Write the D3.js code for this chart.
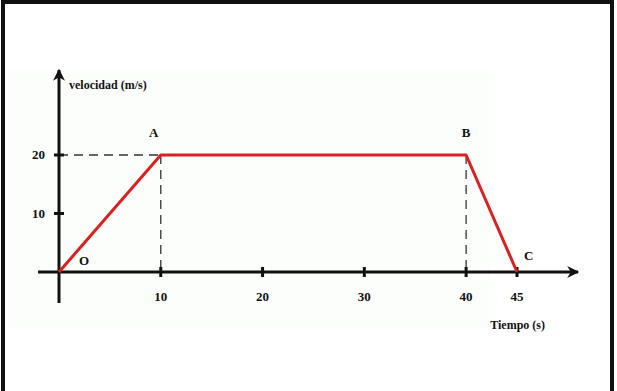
<!DOCTYPE html>
<html>
<head>
<meta charset="utf-8">
<script src="https://cdn.jsdelivr.net/npm/d3@7"></script>
<style>
	body { margin: 0; background: #fff; }
	svg text { font-family: "Liberation Serif", "Times New Roman", serif; font-weight: bold; fill: #111; }
</style>
</head>
<body>
<script>
	// Data
	const times = [0, 10, 40, 45];
	const speeds = [0, 20, 20, 0];
	const pointNames = ['O', 'A', 'B', 'C'];
	const xTicks = [10, 20, 30, 40, 45];
	const yTicks = [10, 20];

	const W = 617, H = 391;

	const svg = d3.select('body')
		.append('svg')
		.attr('width', W)
		.attr('height', H);

	// Faint background panel and frame
	svg.append('rect')
		.attr('x', 8).attr('y', 70)
		.attr('width', 482).attr('height', 257)
		.attr('fill', '#fcfefc');

	svg.append('path')
		.attr('d', `M3,${H} V2 H612 V${H}`)
		.attr('fill', 'none')
		.attr('stroke', '#111')
		.attr('stroke-width', 4);

	// Scales
	const xScale = d3.scaleLinear().domain([0, 45]).range([59, 517]);
	const yScale = d3.scaleLinear().domain([0, 20]).range([272, 155]);

	const points = times.map((t, i) => ({ t: t, v: speeds[i], name: pointNames[i] }));

	// Dashed guide lines
	const guides = svg.append('g')
		.attr('stroke', '#333')
		.attr('stroke-width', 1.3)
		.attr('stroke-dasharray', '9,6');

	guides.append('line')
		.attr('x1', xScale(0)).attr('x2', xScale(10))
		.attr('y1', yScale(20)).attr('y2', yScale(20));

	[10, 40].forEach(t => {
		guides.append('line')
			.attr('x1', xScale(t)).attr('x2', xScale(t))
			.attr('y1', yScale(20)).attr('y2', yScale(0));
	});

	// Axes
	svg.append('defs').append('marker')
		.attr('id', 'arrow')
		.attr('viewBox', '0 0 10 10')
		.attr('refX', 9).attr('refY', 5)
		.attr('markerWidth', 6).attr('markerHeight', 4)
		.attr('markerUnits', 'strokeWidth')
		.attr('orient', 'auto')
		.append('path')
		.attr('d', 'M0,0 L10,5 L0,10 L3,5 Z')
		.attr('fill', '#111');

	svg.append('line')
		.attr('x1', 38).attr('x2', 578)
		.attr('y1', yScale(0)).attr('y2', yScale(0))
		.attr('stroke', '#111').attr('stroke-width', 3)
		.attr('marker-end', 'url(#arrow)');

	svg.append('line')
		.attr('x1', xScale(0)).attr('x2', xScale(0))
		.attr('y1', 303).attr('y2', 70)
		.attr('stroke', '#111').attr('stroke-width', 3)
		.attr('marker-end', 'url(#arrow)');

	// Ticks
	svg.selectAll('.xtick')
		.data(xTicks)
		.enter().append('line')
		.attr('class', 'xtick')
		.attr('x1', d => xScale(d)).attr('x2', d => xScale(d))
		.attr('y1', yScale(0) - 5).attr('y2', yScale(0) + 5)
		.attr('stroke', '#111').attr('stroke-width', 3);

	svg.selectAll('.xlabel')
		.data(xTicks)
		.enter().append('text')
		.attr('class', 'xlabel')
		.attr('x', d => xScale(d))
		.attr('y', 301)
		.attr('text-anchor', 'middle')
		.style('font-size', '13px')
		.text(d => d);

	svg.selectAll('.ytick')
		.data(yTicks)
		.enter().append('line')
		.attr('class', 'ytick')
		.attr('x1', xScale(0) - 5).attr('x2', xScale(0) + 5)
		.attr('y1', d => yScale(d)).attr('y2', d => yScale(d))
		.attr('stroke', '#111').attr('stroke-width', 3);

	svg.selectAll('.ylabel')
		.data(yTicks)
		.enter().append('text')
		.attr('class', 'ylabel')
		.attr('x', 45)
		.attr('y', d => yScale(d) + 4)
		.attr('text-anchor', 'end')
		.style('font-size', '13px')
		.text(d => d);

	// Velocity line
	const line = d3.line()
		.x(d => xScale(d.t))
		.y(d => yScale(d.v));

	svg.append('path')
		.datum(points)
		.attr('d', line)
		.attr('fill', 'none')
		.attr('stroke', '#dc1f1f')
		.attr('stroke-width', 3)
		.attr('stroke-linejoin', 'round');

	// Point names
	const nameOffsets = { O: [25, -7], A: [-7, -18], B: [0, -18], C: [7, -12] };
	svg.selectAll('.pname')
		.data(points)
		.enter().append('text')
		.attr('class', 'pname')
		.attr('x', d => xScale(d.t) + nameOffsets[d.name][0])
		.attr('y', d => yScale(d.v) + nameOffsets[d.name][1])
		.attr('text-anchor', d => d.name === 'C' ? 'start' : 'middle')
		.style('font-size', '13px')
		.text(d => d.name);

	// Axis titles
	svg.append('text')
		.attr('x', 69).attr('y', 89)
		.style('font-size', '12px')
		.text('velocidad (m/s)');

	svg.append('text')
		.attr('x', 545).attr('y', 329)
		.attr('text-anchor', 'end')
		.style('font-size', '12px')
		.text('Tiempo (s)');
</script>
</body>
</html>
